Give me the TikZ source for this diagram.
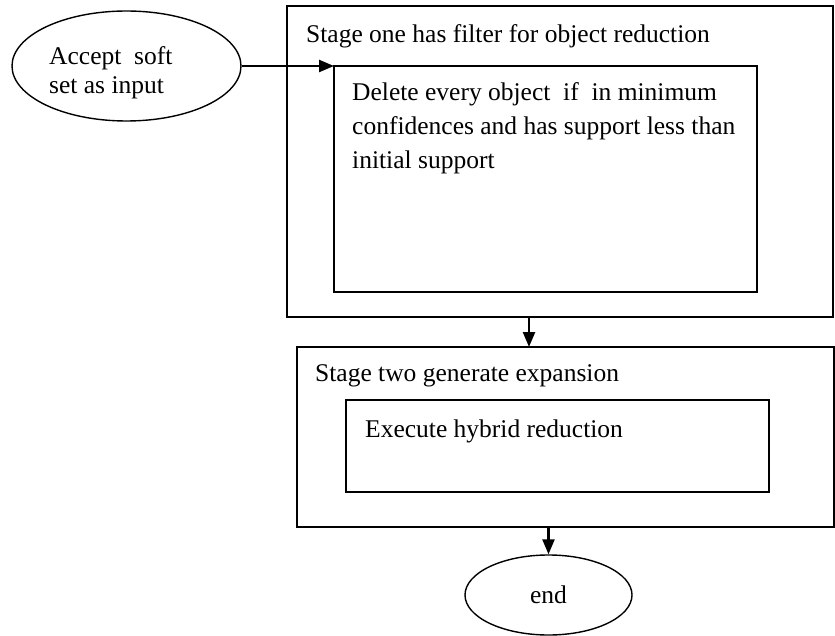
\documentclass[tikz,border=0pt]{standalone}
\usepackage{fontspec}
\setmainfont{Liberation Serif}
\usepackage{tikz}
\usetikzlibrary{positioning,shapes,arrows.meta}
\tikzstyle{terminal}=[ellipse, draw=black, line width=1.4pt, inner sep=0pt]
\tikzstyle{frame}=[rectangle, draw=black, line width=1.4pt, inner sep=0pt, outer sep=0pt, anchor=north west]
\tikzstyle{caption}=[inner sep=0pt, anchor=north west, align=left]
\tikzstyle{flow}=[draw=black, line width=2.4pt, -{Triangle[length=15pt,width=12pt]}]

\begin{document}
\begin{tikzpicture}[x=1pt, y=-1pt, font=\fontsize{25.5}{34}\selectfont]
        \useasboundingbox (0,0) rectangle (835,636);
        % input
        \node (start) [terminal, minimum width=229pt, minimum height=110pt] at (126.5,66) {};
        \node (starttext) [caption, font=\fontsize{25.5}{29}\selectfont] at (49,46.6)
        {Accept\ \ soft\\set as input};
        % stage one
        \node (stageone) [frame, minimum width=546pt, minimum height=311pt] at (287,6) {};
        \node (stageonetitle) [caption] at (306,24.6) {Stage one has filter for object reduction};
        \node (innerone) [frame, minimum width=423pt, minimum height=226pt] at (334,66) {};
        \node (inneronetext) [caption] at (352,82.6)
        {Delete every object\ \ if\ \ in minimum\\confidences and has support less than\\initial support};
        % stage two
        \node (stagetwo) [frame, minimum width=537pt, minimum height=180pt] at (297,347) {};
        \node (stagetwotitle) [caption] at (315,364.6) {Stage two generate expansion};
        \node (innertwo) [frame, minimum width=423pt, minimum height=92pt] at (346,400) {};
        \node (innertwotext) [caption] at (365,419.6) {Execute hybrid reduction};
        % end
        \node (endnode) [terminal, minimum width=167pt, minimum height=80pt] at (548.5,595) {end};

        \draw[flow] (start.east) -- (innerone.north west);
        \draw[flow] ([xshift=-31pt]stageone.south) -- ([xshift=-31pt]stageone.south |- stagetwo.north);
        \draw[flow] (stagetwo.south -| endnode.north) -- (endnode.north);
\end{tikzpicture}
\end{document}
